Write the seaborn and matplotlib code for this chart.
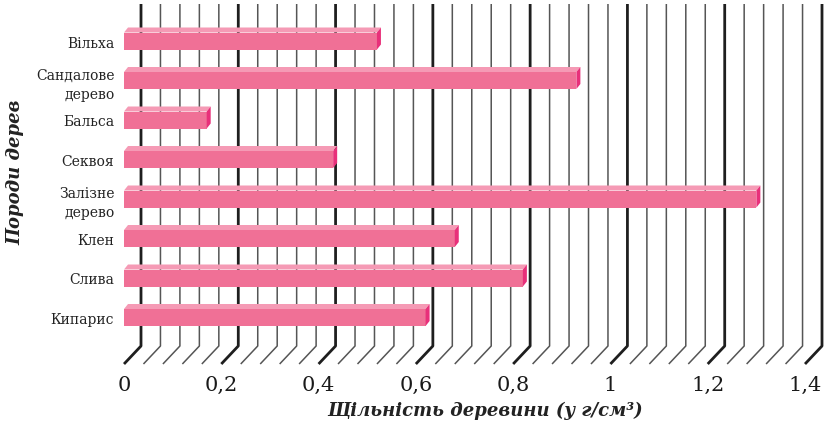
import matplotlib
matplotlib.use("Agg")
import matplotlib.pyplot as plt
import seaborn as sns
import numpy as np
from matplotlib.patches import Polygon

# data
species = ["Вільха", "Сандалове\nдерево", "Бальса", "Секвоя",
           "Залізне\nдерево", "Клен", "Слива", "Кипарис"]
density = [0.52, 0.93, 0.17, 0.43, 1.30, 0.68, 0.82, 0.62]
tick_values = [0, 0.2, 0.4, 0.6, 0.8, 1.0, 1.2, 1.4]
tick_labels = ["0", "0,2", "0,4", "0,6", "0,8", "1", "1,2", "1,4"]

front_col = "#f07096"
top_col = "#f59ab5"
side_col = "#e8307a"

sns.set_theme(style="white")
plt.rcParams['font.family'] = ['DejaVu Serif']

W, H = 824, 431
fig = plt.figure(figsize=(W / 100, H / 100), dpi=100)
ax = fig.add_axes([124 / W, (H - 365) / H, (805 - 124) / W, 360 / H])

px_x = (805 - 124) / 1.4      # pixels per density unit
px_y = 39.5                   # pixels per category
y_top = (5 - 42) / px_y
y_bot = (365 - 42) / px_y
y_break = (347 - 42) / px_y
off = 17 / px_x

# slanted grid (3D floor look)
for k, v in enumerate(np.arange(0, 1.4001, 0.04)):
    major = k % 5 == 0
    ax.plot([v + off, v + off, v], [y_top, y_break, y_bot],
            color="#1e1e1e" if major else "#555555",
            lw=2.0 if major else 1.1, zorder=1, clip_on=False,
            solid_capstyle="butt")

bw = 17 / px_y
sns.barplot(x=density, y=species, orient="h", color=front_col, saturation=1,
            width=bw, linewidth=0, ax=ax, zorder=3)

# 3D faces
dx = 4 / px_x
dy = 5 / px_y
for i, val in enumerate(density):
    t = i - bw / 2
    b = i + bw / 2
    ax.add_patch(Polygon([(0, t), (val, t), (val + dx, t - dy), (dx, t - dy)],
                         closed=True, facecolor=top_col, edgecolor="none", zorder=3))
    ax.add_patch(Polygon([(val, t), (val + dx, t - dy), (val + dx, b - dy), (val, b)],
                         closed=True, facecolor=side_col, edgecolor="none", zorder=3))

ax.set_xlim(0, 1.4)
ax.set_ylim(y_bot, y_top)
ax.set_xticks(tick_values, tick_labels)
ax.tick_params(axis="x", length=0, pad=8, labelsize=15, colors="#1a1a1a")
ax.tick_params(axis="y", length=0, pad=7, labelsize=10, colors="#222222")
for lab in ax.get_yticklabels():
    lab.set_horizontalalignment("right")
    lab.set_multialignment("right")
    lab.set_linespacing(1.45)
ax.set_xlabel("")
ax.set_ylabel("")
for s in ax.spines.values():
    s.set_visible(False)
ax.grid(False)

fig.text(485 / W, 1 - 411 / H, "Щільність деревини (у г/см³)", ha="center", va="center",
         fontsize=13, fontweight="bold", style="italic", color="#222222")
fig.text(15 / W, 1 - 172 / H, "Породи дерев", ha="center", va="center", rotation=90,
         fontsize=13, fontweight="bold", style="italic", color="#222222")

fig.savefig("out.png", dpi=100)
